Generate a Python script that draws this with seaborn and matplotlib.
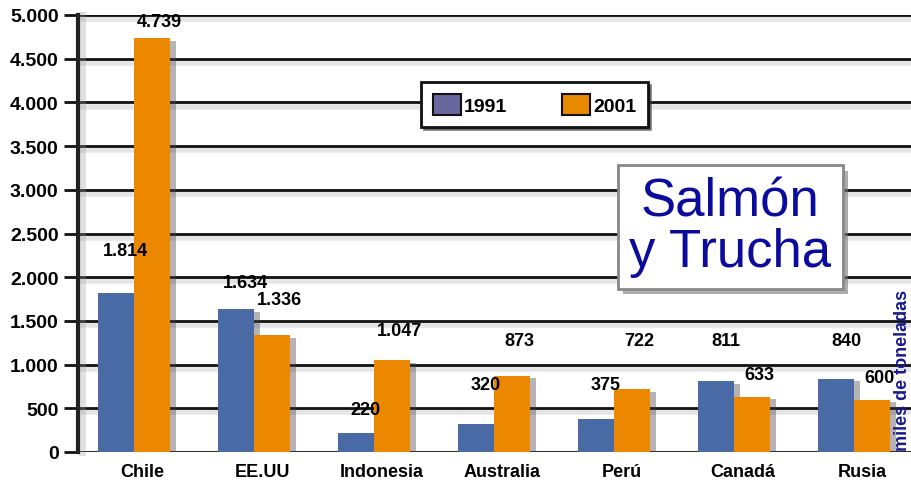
import matplotlib
matplotlib.use("Agg")
import matplotlib.pyplot as plt
import matplotlib.patheffects as pe
import matplotlib.ticker as mticker
import matplotlib.transforms as mtrans
import pandas as pd
import seaborn as sns

countries = ["Chile", "EE.UU", "Indonesia", "Australia", "Perú", "Canadá", "Rusia"]
years = ["1991", "2001"]
values_1991 = [1814, 1634, 220, 320, 375, 811, 840]
values_2001 = [4739, 1336, 1047, 873, 722, 633, 600]
# where each value label sits (data units), as in the original layout
label_y_1991 = [2300, 1945, 490, 770, 770, 1280, 1280]
label_y_2001 = [4930, 1750, 1385, 1280, 1280, 890, 855]

colors = {"1991": "#4a6aa6", "2001": "#ec8700"}
legend_colors = {"1991": "#68679e", "2001": "#e88a00"}


def fmt(v):
    return f"{int(v):,}".replace(",", ".")


df = pd.DataFrame({
    "country": countries * 2,
    "year": ["1991"] * len(countries) + ["2001"] * len(countries),
    "value": values_1991 + values_2001,
})

sns.set_theme(style="white")
plt.rcParams["font.family"] = ["Liberation Sans", "DejaVu Sans"]
plt.rcParams["text.color"] = "black"
plt.rcParams["xtick.color"] = "black"
plt.rcParams["ytick.color"] = "black"

fig = plt.figure(figsize=(9.12, 4.81), dpi=100)
ax = fig.add_axes([78 / 912, 1 - 453 / 481, 1 - 78 / 912, 437 / 481])

sns.barplot(data=df, x="country", y="value", hue="year", hue_order=years,
            palette=colors, saturation=1, width=0.6, gap=0, ax=ax, legend=False,
            linewidth=0, zorder=3)
shadow = [pe.SimplePatchShadow(offset=(4, -2), shadow_rgbFace="#444444", alpha=0.4), pe.Normal()]
for p in ax.patches:
    p.set_path_effects(shadow)

ax.set_xlim(-0.467, 6.48)
ax.set_ylim(0, 5000)
ax.yaxis.set_major_locator(mticker.MultipleLocator(500))
ax.yaxis.set_major_formatter(mticker.FuncFormatter(lambda v, _: fmt(v)))

line_fx = [pe.SimpleLineShadow(offset=(0, -3), shadow_color="#999999", alpha=0.25, linewidth=4), pe.Normal()]
for t in ax.get_yticks():
    if 0 <= t <= 5000:
        ax.axhline(t, color="#111111", lw=2, zorder=1, path_effects=line_fx)

for s in ["top", "right", "bottom"]:
    ax.spines[s].set_visible(False)
ax.spines["left"].set_color("#222222")
ax.spines["left"].set_linewidth(3)
ax.spines["left"].set_path_effects(
    [pe.SimpleLineShadow(offset=(3, 0), shadow_color="#999999", alpha=0.3, linewidth=5), pe.Normal()])

ax.tick_params(axis="y", length=10, width=2, color="#111111", left=True, pad=4)
ax.tick_params(axis="x", length=0, pad=8)
for lab in ax.get_yticklabels():
    lab.set_fontsize(14)
    lab.set_fontweight("bold")
ax.set_xticks(range(len(countries)))
ax.set_xticklabels(countries, fontsize=13, fontweight="bold")
ax.set_xlabel("")
ax.set_ylabel("")

# x labels sit slightly right of the pair centre
for lab in ax.get_xticklabels():
    lab.set_transform(lab.get_transform() + mtrans.ScaledTranslation(8 / 100, 0, fig.dpi_scale_trans))

bw = 0.3
for i in range(len(countries)):
    ax.text(i - bw / 2 + 0.08, label_y_1991[i], fmt(values_1991[i]),
            ha="center", va="center", fontsize=13, fontweight="bold", zorder=5)
    ax.text(i + bw / 2 + 0.06, label_y_2001[i], fmt(values_2001[i]),
            ha="center", va="center", fontsize=13, fontweight="bold", zorder=5)

handles = [plt.Rectangle((0, 0), 1, 1, facecolor=legend_colors[y], edgecolor="#111111", lw=1.5)
           for y in years]
leg = ax.legend(handles, years, loc="upper left", bbox_to_anchor=(0.40, 0.868),
                ncol=2, frameon=True, fancybox=False, shadow={"color": "#333333", "alpha": 0.6},
                edgecolor="#111111", framealpha=1, handlelength=1.45, handleheight=1.25,
                handletextpad=0.15, columnspacing=2.8, borderpad=0.6,
                prop={"size": 14, "weight": "bold"})
leg.get_frame().set_linewidth(2)
leg.set_zorder(6)

title = ax.text(0.782, 0.515, "Salmón\ny Trucha", transform=ax.transAxes, ha="center", va="center",
                fontsize=38, color="#0c0c9c", linespacing=1.0, zorder=6,
                bbox=dict(boxstyle="square,pad=0.22", facecolor="white", edgecolor="#888888", lw=2))
title.get_bbox_patch().set_path_effects(
    [pe.SimplePatchShadow(offset=(4, -4), shadow_rgbFace="#777777", alpha=0.6), pe.Normal()])

fig.text(911 / 912, 1 - 290 / 481, "miles de toneladas", rotation=90, ha="right", va="top",
         fontsize=13, fontweight="bold", color="#1a1a8c")

fig.savefig("out.png", dpi=100, facecolor="white")
